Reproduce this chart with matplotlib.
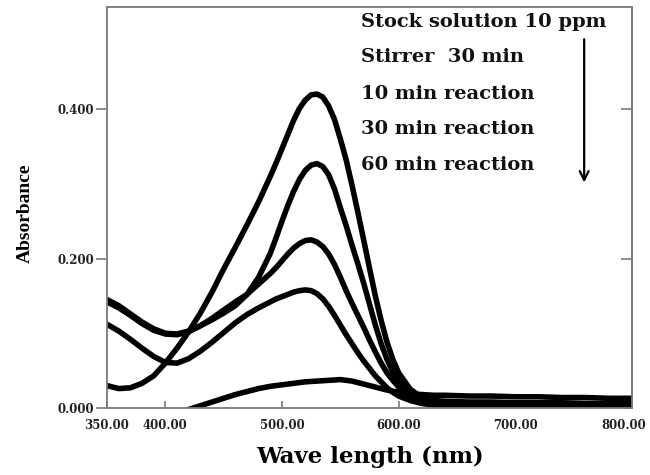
import matplotlib
matplotlib.use('Agg')
import matplotlib.pyplot as plt
import matplotlib.transforms as mtransforms

# wavelength grid (nm), finer around the peaks
wavelength = [350, 360, 370, 380, 390, 400, 410, 420, 430, 440, 450, 460, 470, 480, 490,
              495, 500, 505, 510, 515, 520, 525, 530, 535, 540, 545, 550, 555, 560,
              565, 570, 575, 580, 585, 590, 595, 600,
              610, 620, 630, 640,
              660, 680, 700, 720, 740, 760, 780, 800]

stock_10ppm = [0.030, 0.026, 0.027, 0.033, 0.043, 0.060, 0.080, 0.102, 0.127, 0.155,
               0.186, 0.215, 0.245, 0.276, 0.310,
               0.328, 0.347, 0.366, 0.385, 0.401, 0.412, 0.419, 0.420, 0.416, 0.404,
               0.386, 0.360, 0.332, 0.298, 0.262, 0.225, 0.187, 0.150, 0.117, 0.088,
               0.065, 0.047,
               0.025, 0.014, 0.010, 0.009,
               0.008, 0.008, 0.007, 0.007, 0.007, 0.006, 0.006, 0.006]

stirrer_30 = [0.145, 0.137, 0.126, 0.115, 0.106, 0.100, 0.099, 0.103, 0.110, 0.118,
              0.127, 0.137, 0.152, 0.175, 0.207,
              0.228, 0.250, 0.271, 0.290, 0.306, 0.318, 0.325, 0.327, 0.323, 0.312,
              0.293, 0.268, 0.244, 0.218, 0.193, 0.167, 0.139, 0.111, 0.086, 0.065,
              0.048, 0.035,
              0.020, 0.012, 0.008, 0.007,
              0.006, 0.006, 0.005, 0.005, 0.005, 0.004, 0.004, 0.004]

react_10 = [0.142, 0.134, 0.124, 0.113, 0.104, 0.099, 0.098, 0.102, 0.110, 0.120,
            0.131, 0.142, 0.152, 0.166, 0.180,
            0.188, 0.197, 0.206, 0.214, 0.220, 0.224, 0.225, 0.222, 0.216, 0.206,
            0.192, 0.175, 0.157, 0.140, 0.124, 0.108, 0.091, 0.075, 0.060, 0.047,
            0.037, 0.028,
            0.016, 0.009, 0.006, 0.005,
            0.004, 0.004, 0.004, 0.003, 0.003, 0.003, 0.003, 0.003]

react_30 = [0.112, 0.103, 0.092, 0.080, 0.069, 0.061, 0.060, 0.066, 0.076, 0.088,
            0.101, 0.114, 0.125, 0.134, 0.142,
            0.146, 0.149, 0.152, 0.155, 0.157, 0.158, 0.157, 0.153, 0.146, 0.136,
            0.124, 0.111, 0.098, 0.086, 0.074, 0.063, 0.053, 0.043, 0.035, 0.027,
            0.021, 0.016,
            0.010, 0.006, 0.004, 0.003,
            0.002, 0.002, 0.002, 0.002, 0.001, 0.001, 0.001, 0.001]

react_60 = [-0.030, -0.026, -0.022, -0.018, -0.014, -0.010, -0.006, -0.002, 0.003, 0.008,
            0.013, 0.018, 0.022, 0.026, 0.029,
            0.030, 0.031, 0.032, 0.033, 0.034, 0.035, 0.0355, 0.036, 0.0365, 0.037,
            0.0375, 0.038, 0.037, 0.036, 0.034, 0.032, 0.030, 0.028, 0.026, 0.024,
            0.0225, 0.021,
            0.019, 0.018, 0.017, 0.017,
            0.016, 0.016, 0.015, 0.015, 0.014, 0.014, 0.013, 0.013]

series_labels = ['Stock solution 10 ppm', 'Stirrer  30 min', '10 min reaction',
                 '30 min reaction', '60 min reaction']

x_ticks = [350, 400, 500, 600, 700, 800]
y_ticks = [0.0, 0.2, 0.4]

gray = '#7a7a7a'
serif_wide = 'DejaVu Serif'

fig = plt.figure(figsize=(6.5, 4.75), dpi=100)
ax = fig.add_axes([107 / 650, 67 / 475, 525 / 650, 401 / 475])

for ys in [stock_10ppm, stirrer_30, react_10, react_30, react_60]:
    ax.plot(wavelength, ys, color='black', lw=4, solid_capstyle='round',
            solid_joinstyle='round')

ax.set_xlim(350, 800)
ax.set_ylim(0, 0.5365)

ax.set_xticks(x_ticks)
ax.set_xticklabels([f'{v:.2f}' for v in x_ticks])
ax.set_yticks(y_ticks)
ax.set_yticklabels([f'{v:.3f}' for v in y_ticks])

ax.tick_params(axis='x', direction='in', length=5, width=1.2, color=gray, pad=8)
ax.tick_params(axis='y', direction='out', length=8, width=1.2, color=gray, pad=1)
for sp in ax.spines.values():
    sp.set_color(gray)
    sp.set_linewidth(1.3)

for lab in ax.get_xticklabels() + ax.get_yticklabels():
    lab.set_fontfamily(serif_wide)
    lab.set_fontweight('bold')
    lab.set_fontsize(8.5)
    lab.set_color('#222222')

# last x label sits right at the figure edge, nudge it in a bit
last = ax.get_xticklabels()[-1]
last.set_transform(last.get_transform() +
                   mtransforms.ScaledTranslation(-6 / 72, 0, fig.dpi_scale_trans))

# right side ticks point inwards
sec = ax.secondary_yaxis('right')
sec.set_yticks(y_ticks)
sec.set_yticklabels([])
sec.tick_params(direction='in', length=8, width=1.2, color=gray)
sec.spines['right'].set_color(gray)
sec.spines['right'].set_linewidth(1.3)

# labels stacked in the top right corner
label_y = [0.516, 0.470, 0.420, 0.373, 0.325]
for txt, yv in zip(series_labels, label_y):
    ax.text(568, yv, txt, ha='left', va='center', fontsize=14,
            fontweight='bold', family=serif_wide, color='#111111')

ax.annotate('', xy=(759, 0.298), xytext=(759, 0.497),
            arrowprops=dict(arrowstyle='->', lw=1.6, color='black', mutation_scale=16))

ax.set_xlabel('Wave length (nm)', fontsize=16.5, fontweight='bold', family=serif_wide)
ax.xaxis.set_label_coords(0.5, -0.095)
ax.set_ylabel('Absorbance', fontsize=14, fontweight='bold', family='Liberation Serif')
ax.yaxis.set_label_coords(-0.139, 0.486)

fig.savefig('out.png', dpi=100)
